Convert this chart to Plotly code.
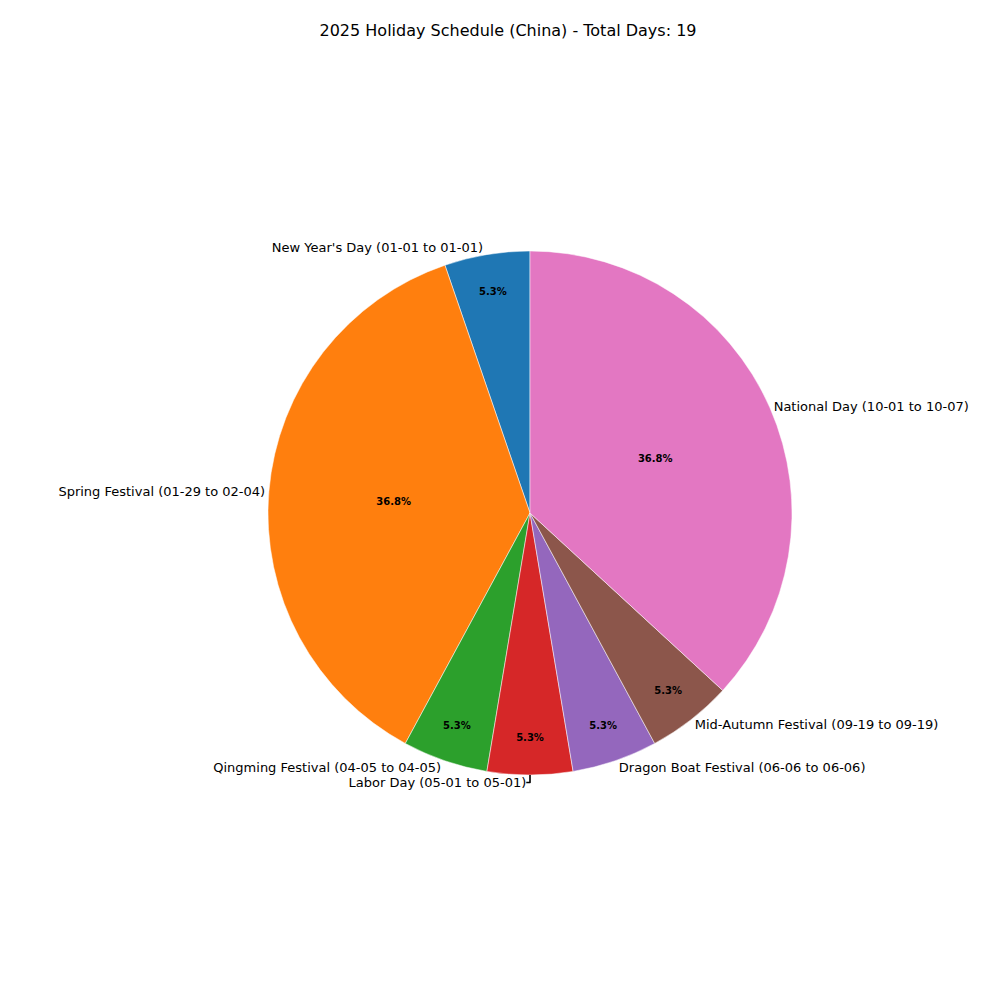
import plotly.graph_objects as go

holidays = ["New Year's Day", "Spring Festival", "Qingming Festival", "Labor Day",
            "Dragon Boat Festival", "Mid-Autumn Festival", "National Day"]
ranges = ["01-01 to 01-01", "01-29 to 02-04", "04-05 to 04-05", "05-01 to 05-01",
          "06-06 to 06-06", "09-19 to 09-19", "10-01 to 10-07"]
days = [1, 7, 1, 1, 1, 1, 7]
colors = ["#1f77b4", "#ff7f0e", "#2ca02c", "#d62728", "#9467bd", "#8c564b", "#e377c2"]

labels = [f"{h} ({r})" for h, r in zip(holidays, ranges)]
total = sum(days)
dom = dict(x=[0.26, 0.784], y=[0.233, 0.757])
# first slice should start at 12 o'clock and go counterclockwise
rot = -360 * days[0] / total

fig = go.Figure()
# slices with percentages inside
fig.add_trace(go.Pie(
    labels=labels, values=days, sort=False, direction="counterclockwise", rotation=rot,
    marker=dict(colors=colors, line=dict(color="white", width=0.5)),
    textinfo="percent", texttemplate="<b>%{percent:.1%}</b>", textposition="inside",
    insidetextorientation="horizontal", textfont=dict(size=10, color="black"),
    domain=dom, showlegend=False, hoverinfo="label+value",
))
# transparent copy for outside labels
fig.add_trace(go.Pie(
    labels=labels, values=days, sort=False, direction="counterclockwise", rotation=rot,
    marker=dict(colors=["rgba(0,0,0,0)"] * len(days)),
    textinfo="label", textposition="outside", textfont=dict(size=13, color="black"),
    domain=dom, showlegend=False, hoverinfo="skip",
))
fig.update_layout(
    width=1000, height=1000, paper_bgcolor="white", plot_bgcolor="white",
    font=dict(family="DejaVu Sans", color="black"),
    margin=dict(l=0, r=0, t=0, b=0),
    title=dict(text=f"2025 Holiday Schedule (China) - Total Days: {total}",
               x=0.5, y=0.978, xanchor="center", yanchor="middle", font=dict(size=16)),
)
fig.write_html("out.html")
